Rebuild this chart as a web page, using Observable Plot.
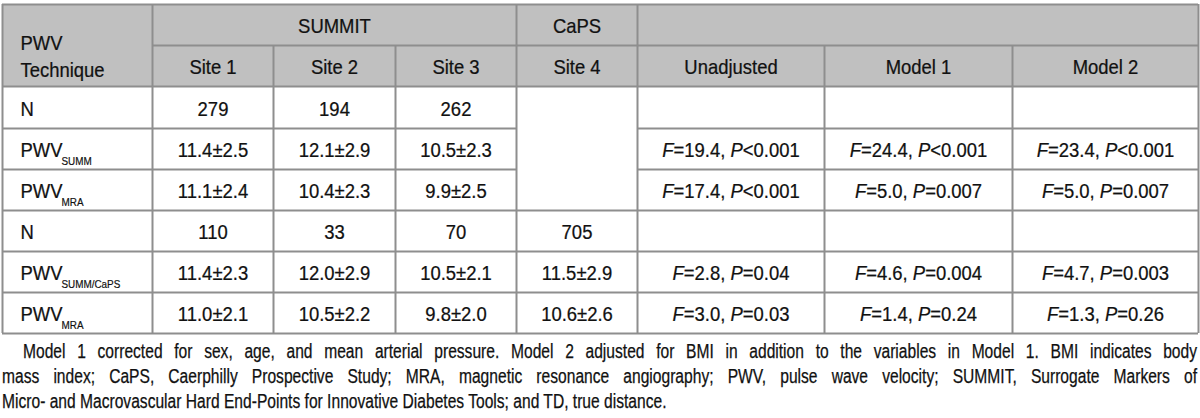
<!DOCTYPE html>
<html>
<head>
<meta charset="utf-8">
<script src="https://cdn.jsdelivr.net/npm/d3@7"></script>
<script src="https://cdn.jsdelivr.net/npm/@observablehq/plot@0.6"></script>
<style>
  html, body { margin: 0; padding: 0; background: #fff; }
  #chart svg { display: block; }
  #caption { transform-origin: 0 0; margin-top: 3px;
             font-family: 'Liberation Sans', Arial, sans-serif; font-size: 19.5px; line-height: 25px; color: #111;
             -webkit-text-stroke: 0.25px #111; }
  #caption div { white-space: normal; }
</style>
</head>
<body>
<div id="chart"></div>
<div id="caption"></div>
<script>
// ---------- data ----------
const cornerHeader = "PWV\nTechnique";
const groupHeaders = ["SUMMIT", "CaPS", ""];
const columnHeaders = ["Site 1", "Site 2", "Site 3", "Site 4", "Unadjusted", "Model 1", "Model 2"];
const rowLabels = ["N", "PWV", "PWV", "N", "PWV", "PWV"];
const rowSubscripts = ["", "SUMM", "MRA", "", "SUMM/CaPS", "MRA"];
const site1 = ["279", "11.4±2.5", "11.1±2.4", "110", "11.4±2.3", "11.0±2.1"];
const site2 = ["194", "12.1±2.9", "10.4±2.3", "33", "12.0±2.9", "10.5±2.2"];
const site3 = ["262", "10.5±2.3", "9.9±2.5", "70", "10.5±2.1", "9.8±2.0"];
const site4 = ["", "", "", "705", "11.5±2.9", "10.6±2.6"];
const unadjusted = ["", "F=19.4, P<0.001", "F=17.4, P<0.001", "", "F=2.8, P=0.04", "F=3.0, P=0.03"];
const model1 = ["", "F=24.4, P<0.001", "F=5.0, P=0.007", "", "F=4.6, P=0.004", "F=1.4, P=0.24"];
const model2 = ["", "F=23.4, P<0.001", "F=5.0, P=0.007", "", "F=4.7, P=0.003", "F=1.3, P=0.26"];
const captionLines = [
  "Model 1 corrected for sex, age, and mean arterial pressure. Model 2 adjusted for BMI in addition to the variables in Model 1. BMI indicates body",
  "mass index; CaPS, Caerphilly Prospective Study; MRA, magnetic resonance angiography; PWV, pulse wave velocity; SUMMIT, Surrogate Markers of",
  "Micro- and Macrovascular Hard End-Points for Innovative Diabetes Tools; and TD, true distance."
];

// ---------- layout ----------
const FS = 20.5, SX = 0.9, CAP_SX = 0.8;
const colEdges = [2, 152, 273, 395, 516, 637, 824, 1012, 1198];
const rowEdges = [4, 45, 86, 128, 169, 210, 251, 292, 333];
const groupSpans = [[1, 4], [4, 5], [5, 8]];
const mergedCol = 4, mergedRows = [2, 5]; // Site 4 cell spanning first three body rows
const ink = "#111";
const textStyle = {fill: ink, stroke: ink, strokeWidth: 0.25, paintOrder: "stroke"};

const valueCols = [site1, site2, site3, site4, unadjusted, model1, model2];
const cells = [];
valueCols.forEach((col, j) => col.forEach((v, r) => cells.push({x: j + 1.5, y: r + 2.5, text: v})));
const labels = rowLabels.map((t, r) => ({x: 0, y: r + 2.5, text: t}));
const subs = rowSubscripts.map((t, r) => ({x: 0, y: r + 2.5, text: t}));
const groups = groupHeaders.map((t, i) => ({x: (groupSpans[i][0] + groupSpans[i][1]) / 2, y: 0.5, text: t}));
const colHeads = columnHeaders.map((t, j) => ({x: j + 1.5, y: 1.5, text: t}));

// grid segments
const nCols = colEdges.length - 1, nRows = rowEdges.length - 1;
const hSegs = [];
for (let i = 0; i <= nRows; i++) {
  if (i === 1) { hSegs.push({y: i, x1: 1, x2: nCols}); continue; }
  if (i > mergedRows[0] && i < mergedRows[1]) {
    hSegs.push({y: i, x1: 0, x2: mergedCol});
    hSegs.push({y: i, x1: mergedCol + 1, x2: nCols});
    continue;
  }
  hSegs.push({y: i, x1: 0, x2: nCols});
}
const vSegs = [];
for (let j = 0; j <= nCols; j++) {
  const inGroup = groupSpans.some(([a, b]) => j > a && j < b);
  vSegs.push({x: j, y1: inGroup ? 1 : 0, y2: nRows});
}

const svg = Plot.plot({
  width: 1200,
  height: 336,
  margin: 0,
  x: {type: "linear", domain: d3.range(colEdges.length), range: colEdges, axis: null},
  y: {type: "linear", domain: d3.range(rowEdges.length), range: rowEdges, axis: null},
  style: {fontFamily: "'Liberation Sans', Arial, sans-serif", color: ink, background: "#fff"},
  marks: [
    Plot.rect([{x1: 0, x2: nCols, y1: 0, y2: 2}], {x1: "x1", x2: "x2", y1: "y1", y2: "y2", fill: "#c0c0c0"}),
    Plot.ruleY(hSegs, {y: "y", x1: "x1", x2: "x2", stroke: "#8e8e8e", strokeWidth: 2}),
    Plot.ruleX(vSegs, {x: "x", y1: "y1", y2: "y2", stroke: "#8e8e8e", strokeWidth: 2}),
    Plot.text([{x: 0, y: 1, text: cornerHeader}], {x: "x", y: "y", text: "text", textAnchor: "start", dx: 18, dy: 9, lineHeight: 1.33, fontSize: FS, ...textStyle}),
    Plot.text(groups, {x: "x", y: "y", text: "text", fontSize: FS, dy: 1.5, ...textStyle}),
    Plot.text(colHeads, {x: "x", y: "y", text: "text", fontSize: FS, dy: 1.5, ...textStyle}),
    Plot.text(labels, {x: "x", y: "y", text: "text", textAnchor: "start", dx: 18, dy: 1.5, fontSize: FS, ...textStyle}),
    Plot.text(subs, {x: "x", y: "y", text: "text", textAnchor: "start", dx: 59, dy: 12, fontSize: 11, fill: ink, stroke: ink, strokeWidth: 0.2, paintOrder: "stroke"}),
    Plot.text(cells, {x: "x", y: "y", text: "text", fontSize: FS, dy: 1.5, ...textStyle})
  ]
});

d3.select(svg).selectAll("text").each(function () {
  const t = d3.select(this);
  t.attr("transform", (t.attr("transform") || "") + ` scale(${SX},1)`);
  const s = this.textContent;
  if (/^F=/.test(s) && this.childElementCount === 0) {
    this.textContent = "";
    s.split(/([FP])/).filter(p => p !== "").forEach(p => {
      const sp = t.append("tspan").text(p);
      if (p === "F" || p === "P") sp.attr("font-style", "italic");
    });
  }
});
document.getElementById("chart").appendChild(svg);

const cap = d3.select("#caption").style("transform", `scaleX(${CAP_SX})`);
captionLines.forEach((line, i) => {
  const left = i === 0 ? 23 : 2;
  const d = cap.append("div")
    .style("margin-left", (left / CAP_SX) + "px")
    .style("width", ((1197 - left) / CAP_SX) + "px")
    .text(line);
  if (i < captionLines.length - 1) d.style("text-align", "justify").style("text-align-last", "justify");
});
</script>
</body>
</html>
